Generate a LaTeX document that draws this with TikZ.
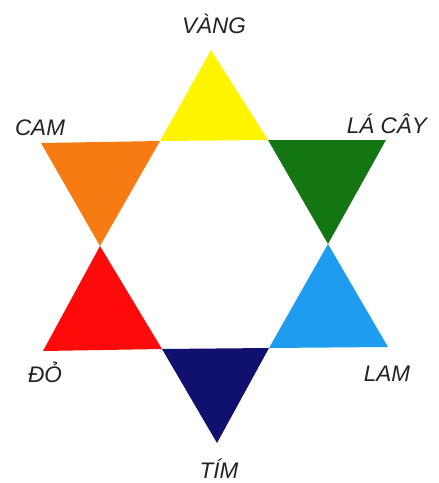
\documentclass[tikz,border=0pt]{standalone}
\usepackage{fontspec}
\setmainfont{Liberation Sans}
\definecolor{ink}{HTML}{222222}
\definecolor{vang}{HTML}{FFF500}
\definecolor{cam}{HTML}{F57B12}
\definecolor{lacay}{HTML}{137613}
\definecolor{do}{HTML}{FF0A0A}
\definecolor{lam}{HTML}{1E9CF0}
\definecolor{tim}{HTML}{10106E}

\begin{document}
\begin{tikzpicture}[x=1pt,y=-1pt,text=ink,
    lbl/.style={anchor=base,font=\itshape\fontsize{22.5}{26}\selectfont}]
  \useasboundingbox (0,0) rectangle (439,483);
  % hexagon in the middle
  \coordinate (HL) at (100,246);
  \coordinate (HTL) at (160,141);
  \coordinate (HTR) at (268,140);
  \coordinate (HR) at (328,244);
  \coordinate (HBR) at (269,348);
  \coordinate (HBL) at (162,349);
  % tips of the star
  \coordinate (PV) at (211,50);
  \coordinate (PC) at (41,143);
  \coordinate (PL) at (386,140);
  \coordinate (PD) at (43,351);
  \coordinate (PA) at (388,347);
  \coordinate (PT) at (217,443);

  \fill[vang] (PV) -- (HTL) -- (HTR) -- cycle;
  \fill[cam] (PC) -- (HTL) -- (HL) -- cycle;
  \fill[lacay] (HTR) -- (PL) -- (HR) -- cycle;
  \fill[do] (HL) -- (PD) -- (HBL) -- cycle;
  \fill[lam] (HR) -- (PA) -- (HBR) -- cycle;
  \fill[tim] (HBL) -- (HBR) -- (PT) -- cycle;

  \node[lbl] (vang) at (214,33) {VÀNG};
  \node[lbl] (cam) at (40,135) {CAM};
  \node[lbl] (lacay) at (387,133) {LÁ CÂY};
  \node[lbl] (do) at (45,382) {ĐỎ};
  \node[lbl] (lam) at (387,381) {LAM};
  \node[lbl] (tim) at (219,478) {TÍM};
\end{tikzpicture}
\end{document}
